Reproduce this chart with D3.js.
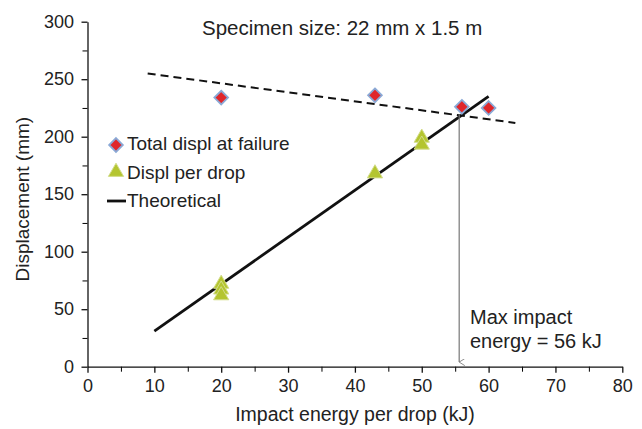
<!DOCTYPE html>
<html>
<head>
<meta charset="utf-8">
<script src="https://cdn.jsdelivr.net/npm/d3@7"></script>
<style>
  body { margin: 0; background: #fff; }
  text { font-family: "Liberation Sans", Arial, sans-serif; fill: #222; }
</style>
</head>
<body>
<div id="chart"></div>
<script>
// data
var failureEnergy = [20, 43, 56, 60];
var failureDispl = [234, 236, 226, 225];
var dropEnergy = [20, 20, 20, 43, 50, 50];
var dropDispl = [72, 67, 62, 168, 199, 193];
var theoryEnergy = [10, 60];
var theoryDispl = [31, 235];
var limitEnergy = [9, 64];
var limitDispl = [255, 212];
var maxImpact = 56;
var xTicks = [0, 10, 20, 30, 40, 50, 60, 70, 80];
var yTicks = [0, 50, 100, 150, 200, 250, 300];

var width = 642, height = 429;
var x = d3.scaleLinear().domain([0, 80]).range([87.5, 622.3]);
var y = d3.scaleLinear().domain([0, 300]).range([366.7, 21.7]);

var svg = d3.select('#chart').append('svg')
	.attr('width', width)
	.attr('height', height);

// minor ticks first
svg.append('g')
	.attr('transform', 'translate(0,' + y(0) + ')')
	.call(d3.axisBottom(x).tickValues(d3.range(5, 80, 10)).tickSize(5).tickFormat(''))
	.call(function (g) { g.select('.domain').remove(); });
svg.append('g')
	.attr('transform', 'translate(' + x(0) + ',0)')
	.call(d3.axisLeft(y).tickValues(d3.range(25, 300, 50)).tickSize(5).tickFormat(''))
	.call(function (g) { g.select('.domain').remove(); });

var xAxis = svg.append('g')
	.attr('transform', 'translate(0,' + y(0) + ')')
	.call(d3.axisBottom(x).tickValues(xTicks).tickSize(6).tickPadding(6.5).tickSizeOuter(0));
var yAxis = svg.append('g')
	.attr('transform', 'translate(' + x(0) + ',0)')
	.call(d3.axisLeft(y).tickValues(yTicks).tickSize(6).tickPadding(7.5).tickSizeOuter(0));

[xAxis, yAxis].forEach(function (a) {
	a.selectAll('text').style('font-size', '18px').attr('fill', '#222');
	a.selectAll('line, path').attr('stroke', '#111').attr('stroke-width', 1.3);
});

// axis titles
svg.append('text')
	.attr('x', (x(0) + x(80)) / 2)
	.attr('y', 421)
	.attr('text-anchor', 'middle')
	.style('font-size', '19.5px')
	.text('Impact energy per drop (kJ)');

svg.append('text')
	.attr('transform', 'translate(29,' + ((y(0) + y(300)) / 2 + 5) + ') rotate(-90)')
	.attr('text-anchor', 'middle')
	.style('font-size', '19px')
	.text('Displacement (mm)');

svg.append('text')
	.attr('x', 202)
	.attr('y', 35)
	.style('font-size', '20.5px')
	.text('Specimen size: 22 mm x 1.5 m');

var line = d3.line()
	.x(function (d) { return x(d[0]); })
	.y(function (d) { return y(d[1]); });

// dashed limit line
svg.append('path')
	.datum(d3.zip(limitEnergy, limitDispl))
	.attr('d', line)
	.attr('fill', 'none')
	.attr('stroke', '#111')
	.attr('stroke-width', 2)
	.attr('stroke-dasharray', '8,5');

// theoretical line
svg.append('path')
	.datum(d3.zip(theoryEnergy, theoryDispl))
	.attr('d', line)
	.attr('fill', 'none')
	.attr('stroke', '#111')
	.attr('stroke-width', 2.8);

// arrow for max impact energy
svg.append('defs').append('marker')
	.attr('id', 'arr')
	.attr('viewBox', '0 0 10 10')
	.attr('refX', 5).attr('refY', 10)
	.attr('markerWidth', 7).attr('markerHeight', 7)
	.attr('markerUnits', 'userSpaceOnUse')
	.attr('orient', 'auto-start-reverse')
	.append('path')
	.attr('d', 'M0,2 L5,10 L10,2')
	.attr('fill', 'none')
	.attr('stroke', '#777')
	.attr('stroke-width', 1.2);

svg.append('line')
	.attr('x1', x(55.6)).attr('x2', x(55.6))
	.attr('y1', y(219)).attr('y2', y(4))
	.attr('stroke', '#777')
	.attr('stroke-width', 1.2)
	.attr('marker-end', 'url(#arr)');

svg.append('text')
	.attr('x', 470)
	.attr('y', 324)
	.style('font-size', '20px')
	.text('Max impact');
svg.append('text')
	.attr('x', 470)
	.attr('y', 348)
	.style('font-size', '20px')
	.text('energy = ' + maxImpact + ' kJ');

// markers
var diamond = d3.symbol().type(d3.symbolDiamond2).size(120);
var triangle = d3.symbol().type(d3.symbolTriangle).size(100);

function drawDiamond(g, cx, cy) {
	g.append('path')
		.attr('d', diamond)
		.attr('transform', 'translate(' + cx + ',' + cy + ')')
		.attr('fill', '#e0262a')
		.attr('stroke', '#8aa9d6')
		.attr('stroke-width', 1.8);
}
function drawTriangle(g, cx, cy) {
	g.append('path')
		.attr('d', triangle)
		.attr('transform', 'translate(' + cx + ',' + cy + ')')
		.attr('fill', '#b4c530')
		.attr('stroke', '#d3dd8a')
		.attr('stroke-width', 1);
}

var marks = svg.append('g');
dropEnergy.forEach(function (e, i) { drawTriangle(marks, x(e), y(dropDispl[i])); });
failureEnergy.forEach(function (e, i) { drawDiamond(marks, x(e), y(failureDispl[i])); });

// legend
var legend = svg.append('g');
drawDiamond(legend, 116, 145);
drawTriangle(legend, 116, 172);
legend.append('line')
	.attr('x1', 107).attr('x2', 126)
	.attr('y1', 201).attr('y2', 201)
	.attr('stroke', '#111')
	.attr('stroke-width', 2.8);
var legendText = ['Total displ at failure', 'Displ per drop', 'Theoretical'];
legend.selectAll('text.leg')
	.data(legendText)
	.enter().append('text')
	.attr('class', 'leg')
	.attr('x', 127)
	.attr('y', function (d, i) { return 150 + i * 28.5; })
	.style('font-size', '19px')
	.text(function (d) { return d; });
</script>
</body>
</html>
